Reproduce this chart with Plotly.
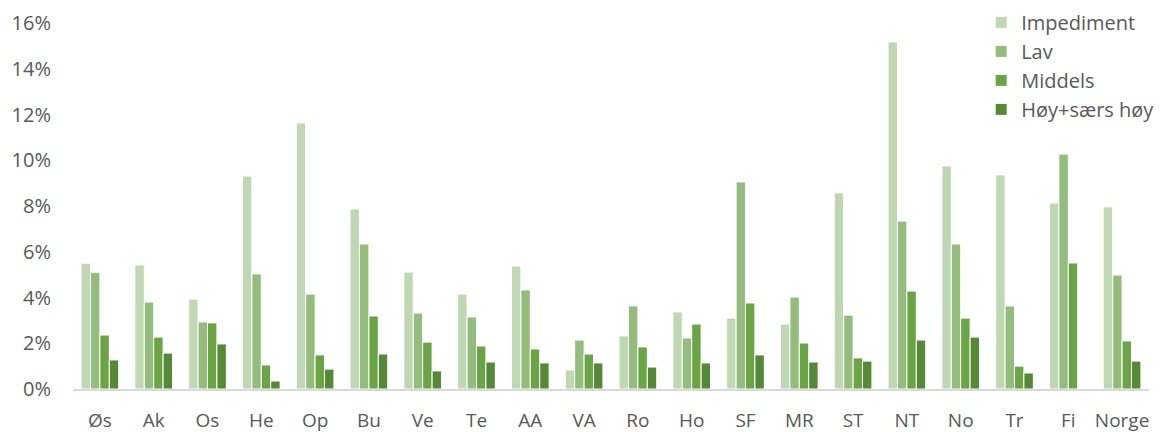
import plotly.graph_objects as go

categories = ["Øs", "Ak", "Os", "He", "Op", "Bu", "Ve", "Te", "AA", "VA",
              "Ro", "Ho", "SF", "MR", "ST", "NT", "No", "Tr", "Fi", "Norge"]
impediment = [5.5, 5.42, 3.93, 9.31, 11.63, 7.87, 5.11, 4.15, 5.38, 0.83,
              2.32, 3.37, 3.10, 2.84, 8.57, 15.17, 9.75, 9.36, 8.13, 7.96]
lav = [5.10, 3.80, 2.93, 5.03, 4.15, 6.34, 3.32, 3.15, 4.33, 2.14,
       3.63, 2.23, 9.05, 4.02, 3.23, 7.34, 6.34, 3.63, 10.27, 4.98]
middels = [2.36, 2.27, 2.89, 1.05, 1.49, 3.19, 2.05, 1.88, 1.75, 1.53,
           1.84, 2.84, 3.76, 2.01, 1.36, 4.28, 3.10, 1.00, 5.51, 2.10]
hoy = [1.27, 1.57, 1.97, 0.35, 0.87, 1.53, 0.79, 1.18, 1.14, 1.14,
       0.96, 1.14, 1.49, 1.18, 1.22, 2.14, 2.27, 0.70, 0.0, 1.22]

series = [
    ("Impediment", impediment, "#BFD7B3"),
    ("Lav", lav, "#93BC7D"),
    ("Middels", middels, "#6AA444"),
    ("Høy+særs høy", hoy, "#558837"),
]

fig = go.Figure()
for name, vals, color in series:
    fig.add_trace(go.Bar(
        name=name, x=categories, y=[v / 100 for v in vals],
        marker=dict(color=color, line=dict(color="white", width=1)),
    ))

font_family = "'Open Sans', sans-serif"
fig.update_layout(
    width=1161, height=424,
    margin=dict(l=65, r=20, t=15, b=43, autoexpand=False),
    paper_bgcolor="white", plot_bgcolor="white",
    barmode="group", bargap=0.3, bargroupgap=0.0,
    font=dict(family=font_family, size=19, color="#595959"),
    showlegend=True,
    legend=dict(x=0.844, y=1.055, xanchor="left", yanchor="top",
                font=dict(size=20, color="#595959"),
                bgcolor="rgba(0,0,0,0)", tracegroupgap=0),
    xaxis=dict(showgrid=False, showline=True, linecolor="#D9D9D9", linewidth=2,
               ticks="", ticklabelstandoff=13, automargin=False,
               tickfont=dict(size=19, color="#595959")),
    yaxis=dict(range=[0, 0.16], dtick=0.02, tickformat=".0%", showgrid=False,
               showline=False, zeroline=False, ticks="", ticklabelstandoff=21,
               automargin=False,
               tickfont=dict(size=20, color="#595959")),
)

fig.write_html("out.html")
